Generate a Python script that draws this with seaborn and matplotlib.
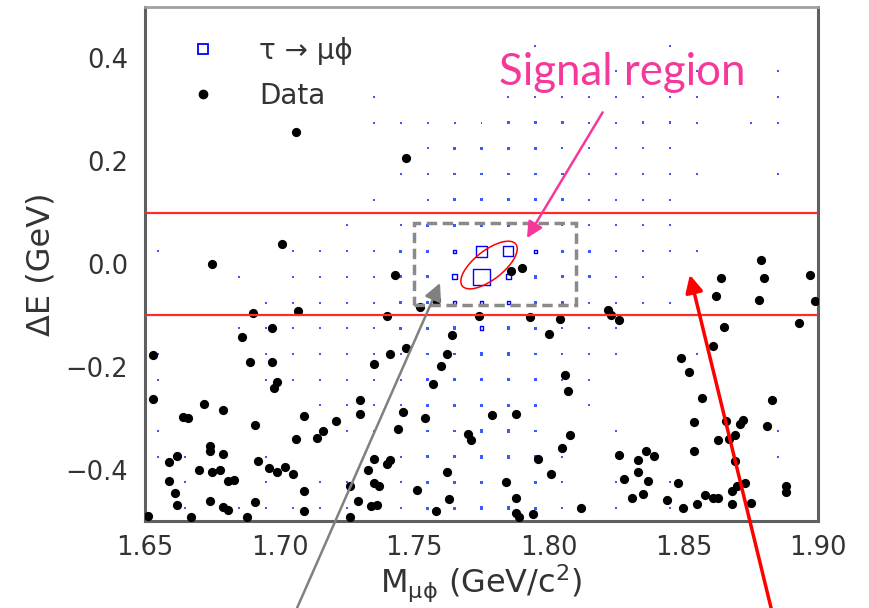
import matplotlib
matplotlib.use("Agg")
import numpy as np
import pandas as pd
import matplotlib.pyplot as plt
import seaborn as sns
from matplotlib.patches import Ellipse, Rectangle
from matplotlib.lines import Line2D
from matplotlib.transforms import ScaledTranslation
from matplotlib.ticker import MultipleLocator

# ---------------- data ----------------
data_x = [1.706, 1.747, 1.701, 1.675, 1.743, 1.879, 1.897, 1.864, 1.880, 1.790,
          1.786, 1.752, 1.758, 1.774, 1.793, 1.804, 1.764, 1.800, 1.822, 1.823,
          1.826, 1.862, 1.878, 1.899, 1.865, 1.893, 1.861, 1.849, 1.852, 1.857,
          1.883, 1.806, 1.807,
          1.690, 1.707, 1.740, 1.697, 1.686, 1.653, 1.689, 1.697, 1.741, 1.747,
          1.762, 1.735, 1.760, 1.757, 1.699, 1.698, 1.653, 1.730, 1.672, 1.679,
          1.664, 1.666, 1.709, 1.730, 1.746, 1.754, 1.779, 1.788, 1.691, 1.721,
          1.716, 1.714, 1.706, 1.744, 1.770, 1.771, 1.674, 1.674, 1.662, 1.659,
          1.679, 1.692, 1.735, 1.741, 1.740, 1.670, 1.675, 1.678, 1.696, 1.699,
          1.702, 1.705, 1.733, 1.762, 1.784, 1.659, 1.661, 1.662, 1.674, 1.681,
          1.683, 1.679, 1.681, 1.691, 1.709, 1.709, 1.726, 1.729, 1.735, 1.737,
          1.734, 1.736, 1.751, 1.758, 1.763, 1.788, 1.788, 1.651, 1.667, 1.688,
          1.726,
          1.789, 1.794, 1.812, 1.808, 1.805, 1.796, 1.801, 1.854, 1.866, 1.871,
          1.872, 1.881, 1.863, 1.867, 1.869, 1.854, 1.869, 1.826, 1.833, 1.836,
          1.839, 1.833, 1.828, 1.837, 1.835, 1.831, 1.848, 1.844, 1.850, 1.855,
          1.858, 1.861, 1.863, 1.868, 1.868, 1.870, 1.873, 1.875, 1.888, 1.888]
data_y = [0.256, 0.207, 0.039, 0.000, -0.022, 0.008, -0.021, -0.028, -0.028, -0.008,
          -0.013, -0.083, -0.071, -0.101, -0.104, -0.107, -0.138, -0.136, -0.089, -0.099,
          -0.109, -0.062, -0.071, -0.072, -0.122, -0.115, -0.159, -0.182, -0.210, -0.261,
          -0.265, -0.216, -0.247,
          -0.095, -0.091, -0.101, -0.125, -0.142, -0.177, -0.191, -0.190, -0.175, -0.164,
          -0.175, -0.195, -0.199, -0.234, -0.229, -0.241, -0.263, -0.264, -0.272, -0.285,
          -0.297, -0.300, -0.295, -0.292, -0.288, -0.300, -0.293, -0.291, -0.313, -0.306,
          -0.324, -0.339, -0.340, -0.321, -0.330, -0.343, -0.355, -0.363, -0.374, -0.385,
          -0.370, -0.384, -0.379, -0.382, -0.390, -0.401, -0.405, -0.400, -0.396, -0.405,
          -0.395, -0.408, -0.400, -0.405, -0.424, -0.423, -0.445, -0.468, -0.462, -0.423,
          -0.421, -0.473, -0.478, -0.463, -0.442, -0.481, -0.432, -0.462, -0.426, -0.431,
          -0.470, -0.469, -0.440, -0.480, -0.458, -0.455, -0.484, -0.491, -0.493, -0.493,
          -0.492,
          -0.492, -0.487, -0.475, -0.332, -0.358, -0.379, -0.408, -0.308, -0.306, -0.311,
          -0.303, -0.316, -0.342, -0.340, -0.333, -0.363, -0.383, -0.372, -0.381, -0.363,
          -0.373, -0.405, -0.418, -0.423, -0.447, -0.455, -0.427, -0.460, -0.475, -0.467,
          -0.450, -0.455, -0.455, -0.466, -0.441, -0.431, -0.427, -0.465, -0.431, -0.444]

# MC signal (tau -> mu phi) 2D histogram: bin centres and contents
mc_x_bins = [1.655, 1.665, 1.675, 1.685, 1.695, 1.705, 1.715, 1.725, 1.735, 1.745,
             1.755, 1.765, 1.775, 1.785, 1.795, 1.805, 1.815, 1.825, 1.835, 1.845,
             1.855, 1.865, 1.875, 1.885, 1.895]
mc_y_bins = [0.475, 0.425, 0.375, 0.325, 0.275, 0.225, 0.175, 0.125, 0.075, 0.025,
             -0.025, -0.075, -0.125, -0.175, -0.225, -0.275, -0.325, -0.375, -0.425, -0.475]
mc_counts = [
    [0,0,0,0,0, 0,0,0,0,0, 0,0,0,0,0, 0,0,0,0,0, 0,0,0,0,0],
    [0,0,0,0,0, 0,0,0,0,0, 0,0,0,0,1, 0,0,0,0,1, 0,0,0,0,0],
    [0,0,0,0,0, 0,0,0,0,0, 0,0,0,0,0, 0,0,1,0,0, 1,0,0,1,0],
    [0,0,0,0,0, 0,0,0,1,0, 0,0,0,1,1, 1,1,1,1,1, 1,0,0,1,0],
    [0,0,0,0,0, 0,0,0,1,1, 1,1,1,2,2, 2,1,1,2,2, 1,0,1,1,0],
    [0,0,0,0,0, 0,0,0,0,0, 1,2,2,2,2, 1,1,1,1,1, 0,0,0,0,0],
    [0,0,0,0,0, 0,0,0,0,1, 1,2,2,2,2, 2,1,1,1,2, 1,0,0,1,0],
    [0,0,0,0,0, 0,0,0,1,0, 1,2,2,2,2, 2,1,1,1,1, 0,0,0,0,0],
    [0,0,0,0,0, 0,0,1,0,1, 2,2,2,3,2, 1,1,1,1,1, 0,0,0,0,0],
    [1,0,0,0,0, 1,1,1,1,2, 2,4,45,40,4, 2,2,1,1,1, 1,0,0,0,0],
    [0,0,0,1,0, 1,1,1,1,2, 2,9,100,10,3, 2,2,1,1,0, 0,0,0,0,0],
    [0,0,0,0,1, 1,1,1,1,2, 2,4,6,4,2, 2,1,1,1,1, 0,0,0,0,0],
    [0,0,0,1,1, 1,1,1,1,2, 2,3,5,3,2, 1,1,1,0,0, 0,0,0,0,0],
    [1,0,0,0,1, 1,1,1,1,1, 2,2,3,3,2, 1,1,1,0,0, 1,0,0,0,0],
    [1,0,0,0,1, 1,1,1,1,1, 2,2,3,3,2, 1,1,0,0,0, 0,0,0,0,0],
    [0,0,0,0,0, 0,1,1,1,1, 2,2,3,3,2, 0,1,0,0,0, 0,0,0,0,0],
    [1,0,0,0,0, 0,1,1,1,1, 2,2,3,3,2, 0,0,1,0,0, 0,0,0,1,0],
    [1,1,0,0,1, 0,0,0,1,1, 2,2,3,3,2, 1,0,0,0,0, 0,0,0,1,0],
    [0,1,0,0,1, 0,1,1,1,1, 2,2,3,3,2, 1,0,1,0,1, 0,0,0,0,0],
    [0,1,0,1,1, 1,1,1,1,1, 2,2,3,3,2, 1,0,1,0,1, 1,0,0,0,0],
]

x_ticks = [1.65, 1.70, 1.75, 1.80, 1.85, 1.90]
y_ticks = [-0.4, -0.2, 0.0, 0.2, 0.4]
legend_labels = ["τ → μϕ", "Data"]

# ---------------- figure ----------------
sns.set_style("white")
plt.rcParams["font.family"] = ["DejaVu Sans"]
plt.rcParams["mathtext.fontset"] = "dejavusans"

fig = plt.figure(figsize=(8.69, 6.08), dpi=100)
ax = fig.add_axes([145 / 869, 87 / 608, 673 / 869, 514 / 608])

rows = []
for j, yc in enumerate(mc_y_bins):
    for i, xc in enumerate(mc_x_bins):
        c = mc_counts[j][i]
        if c > 0:
            rows.append((xc, yc, c))
mc = pd.DataFrame(rows, columns=["m", "de", "count"])
mc_small = mc[mc["count"] < 4]
mc_big = mc[mc["count"] >= 4]

# sparsely populated bins: tiny filled dots
sns.scatterplot(data=mc_small, x="m", y="de", size="count", sizes=(2.0, 6.5),
                size_norm=(1, 3), marker="s", color="#2447ff",
                linewidth=0, alpha=0.9, legend=False, ax=ax, zorder=2)
# populated bins (box area ~ content)
sns.scatterplot(data=mc_big, x="m", y="de", size="count", sizes=(0, 133),
                size_norm=(0, 100), marker="s", color="blue",
                facecolor="none", edgecolor="blue", linewidth=1.0,
                legend=False, ax=ax, zorder=2)

sns.scatterplot(x=data_x, y=data_y, color="black", s=44, linewidth=0,
                ax=ax, zorder=3)

ax.axhline(0.1, color="#ff2a2a", lw=1.6, zorder=4)
ax.axhline(-0.1, color="#ff2a2a", lw=1.6, zorder=4)

ax.add_patch(Rectangle((1.75, -0.08), 0.06, 0.16, fill=False, ec="#8a8a8a",
                       lw=2.5, ls=(0, (3, 1.6)), zorder=5))

ell = Ellipse((0, 0), 0.68, 0.29, angle=38, fill=False, ec="red", lw=1.1,
              transform=fig.dpi_scale_trans + ScaledTranslation(1.7778, -0.002, ax.transData),
              zorder=6)
ax.add_patch(ell)

ax.set_xlim(1.65, 1.90)
ax.set_ylim(-0.5, 0.5)
ax.set_xticks(x_ticks)
ax.set_yticks(y_ticks)
ax.xaxis.set_minor_locator(MultipleLocator(0.01))
ax.yaxis.set_minor_locator(MultipleLocator(0.05))
ax.tick_params(which="major", direction="in", length=8, width=1.2,
               color="#555555", labelsize=18.5, labelcolor="#333333")
ax.tick_params(axis="x", which="major", pad=10)
ax.tick_params(axis="y", which="major", pad=12)
ax.tick_params(which="minor", direction="in", length=5, width=1.0, color="#777777")

for side in ["left", "bottom", "right"]:
    ax.spines[side].set_color("#606060")
    ax.spines[side].set_linewidth(2.2)
ax.spines["top"].set_color("#a0a0a0")
ax.spines["top"].set_linewidth(2.0)

ax.set_xlabel(r"M$_{\mathregular{μϕ}}$ (GeV/c$^{2}$)", fontsize=23, color="#333333", labelpad=1.5)
ax.set_ylabel("ΔE (GeV)", fontsize=23, color="#333333", labelpad=6.5)

handles = [Line2D([], [], marker="s", ls="none", mfc="none", mec="blue", ms=6.5, mew=1.3),
           Line2D([], [], marker="o", ls="none", mfc="black", mec="black", ms=6)]
ax.legend(handles, legend_labels, loc="upper left", bbox_to_anchor=(0.0654, 0.942),
          frameon=False, fontsize=20, handlelength=1.0, handletextpad=1.52,
          labelspacing=0.62, borderpad=0, borderaxespad=0, labelcolor="#333333")

pink = "#f5399b"
ax.text(1.7815, 0.373, "Signal region", color=pink, fontsize=31.5, family="Lato",
        va="center", ha="left", zorder=7)
ax.annotate("", xy=(1.7919, 0.0505), xytext=(1.820, 0.295),
            arrowprops=dict(arrowstyle="-|>", color=pink, lw=1.8, mutation_scale=24,
                            shrinkA=0, shrinkB=0), zorder=7)
ax.annotate("", xy=(1.7596, -0.037), xytext=(1.7039, -0.70),
            arrowprops=dict(arrowstyle="-|>", color="#808080", lw=1.8, mutation_scale=26,
                            shrinkA=0, shrinkB=0), annotation_clip=False, zorder=7)
ax.annotate("", xy=(1.8524, -0.021), xytext=(1.884, -0.70),
            arrowprops=dict(arrowstyle="-|>", color="red", lw=2.5, mutation_scale=26,
                            shrinkA=0, shrinkB=0), annotation_clip=False, zorder=7)

fig.savefig("out.png", dpi=100)
